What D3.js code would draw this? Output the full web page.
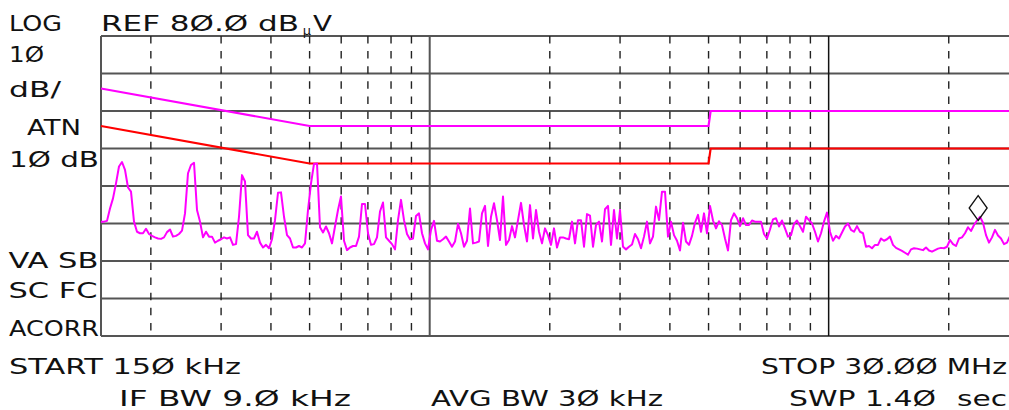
<!DOCTYPE html>
<meta charset="utf-8">
<style>
body { margin: 0; background: #fff; }
text { font-family: "DejaVu Sans", sans-serif; fill: #111; }
</style>
<script src="https://cdn.jsdelivr.net/npm/d3@7"></script>
<body>
<div id="graph"></div>
<script>
// sweep: 150 kHz .. 30 MHz, levels in dBuV, one value per sweep point
var startMHz = 0.15, stopMHz = 30;
var levels = [
  30.5,30.5,30.7,34.0,36.7,40.7,45.2,46.4,44.3,39.6,
  38.5,30.5,27.8,27.4,27.4,28.6,27.2,26.7,26.3,26.0,
  25.9,26.3,27.7,28.4,26.5,26.7,27.2,28.1,32.7,43.4,
  45.6,46.2,33.6,30.5,26.3,27.8,26.5,26.5,24.9,25.4,
  25.8,26.3,26.0,26.3,24.3,24.5,31.8,42.9,41.2,26.9,
  26.0,26.0,27.8,24.9,23.6,24.3,23.4,25.8,30.9,38.2,
  38.3,31.8,26.9,26.0,23.6,23.6,24.0,23.6,24.7,33.6,
  40.7,45.9,46.0,29.0,27.6,29.2,27.4,24.7,29.2,33.6,
  37.2,25.4,22.9,23.6,24.0,24.0,26.5,35.2,35.2,27.4,
  24.3,24.5,26.3,33.2,35.6,26.3,25.4,24.5,23.1,30.9,
  36.3,30.9,27.2,25.8,26.0,32.0,32.7,27.4,24.7,23.1,
  28.3,30.7,25.4,25.2,25.8,26.5,25.2,23.8,25.2,29.9,
  27.4,23.8,25.4,34.0,24.7,24.9,25.2,32.7,34.7,24.0,
  31.8,35.4,30.9,25.6,37.2,24.3,25.6,29.3,26.3,30.9,
  35.5,29.6,25.2,34.9,26.0,33.6,27.8,24.7,28.7,26.9,
  24.3,28.7,23.6,26.3,26.3,26.0,25.8,30.5,24.7,30.9,
  30.9,23.8,32.5,32.1,23.8,29.6,30.5,25.2,33.8,34.7,
  24.3,33.6,26.0,33.6,23.8,23.1,23.8,24.4,27.2,25.8,
  23.4,26.5,30.5,24.7,26.5,34.5,30.9,38.5,38.5,26.5,
  30.5,26.9,25.4,22.8,30.2,25.2,24.3,26.7,30.2,32.3,
  27.8,32.7,27.4,34.7,30.8,28.7,30.6,29.6,26.0,22.8,
  30.9,32.7,31.4,29.3,31.4,29.6,29.6,30.8,30.5,30.5,
  30.5,27.2,26.0,28.4,31.1,31.4,29.2,30.8,28.7,26.5,
  26.9,29.9,30.8,29.3,27.8,31.8,30.9,30.0,27.8,25.2,
  27.4,30.5,32.9,27.8,25.4,26.7,26.0,27.6,29.2,30.0,
  28.3,27.8,29.3,27.8,27.4,23.8,24.0,23.4,24.3,24.3,
  26.0,25.4,25.8,26.5,24.3,23.5,23.1,22.7,22.2,21.7,
  23.1,23.4,23.3,23.1,22.9,23.6,22.8,22.5,22.9,23.3,
  23.5,23.4,23.8,25.6,24.5,24.0,26.0,26.3,27.4,29.0,
  28.0,29.6,30.8,31.8,30.2,26.9,24.9,26.3,28.3,26.8,
  26.0,24.5,24.9,26.7,27.4,26.9,26.3
];

// limit lines (MHz / dBuV)
var limitFreq = [0.15, 0.5, 5, 5.06, 30];
var qpLimit   = [66, 56, 56, 60, 60];
var avLimit   = [56, 46, 46, 50, 50];

// graticule
var levelLines = [0, 10, 20, 30, 40, 50, 60, 70, 80];
var solidFreqs = [1, 10];
var dashFreqs  = [0.2,0.3,0.4,0.5,0.6,0.7,0.8,0.9, 2,3,4,5,6,7,8,9, 20];

// marker
var markerFreq = 23.7, markerLevel = 30.8;

var svg = d3.select("#graph").append("svg")
    .attr("width", 1009)
    .attr("height", 410);

var x = d3.scaleLog().domain([startMHz, stopMHz]).range([101, 1019]);
var y = d3.scaleLinear().domain([0, 80]).range([336, 36]);

//---------------------------------------------------- grid
svg.selectAll(".hline")
    .data(levelLines)
    .enter().append("line")
    .attr("x1", 101).attr("x2", 1019)
    .attr("y1", d => y(d)).attr("y2", d => y(d))
    .style("stroke", "#555")
    .style("stroke-width", 1.8);

svg.selectAll(".dline")
    .data(dashFreqs)
    .enter().append("line")
    .attr("x1", d => x(d)).attr("x2", d => x(d))
    .attr("y1", y(80)).attr("y2", y(0))
    .style("stroke", "#222")
    .style("stroke-width", 1.4)
    .style("stroke-dasharray", "7.5,7.6");

svg.append("line")
    .attr("x1", x(startMHz)).attr("x2", x(startMHz))
    .attr("y1", y(80)).attr("y2", y(0))
    .style("stroke", "#555").style("stroke-width", 2);

svg.selectAll(".sline")
    .data(solidFreqs)
    .enter().append("line")
    .attr("x1", d => x(d)).attr("x2", d => x(d))
    .attr("y1", y(80)).attr("y2", y(0))
    .style("stroke", (d, i) => i == 0 ? "#555" : "#111")
    .style("stroke-width", (d, i) => i == 0 ? 2 : 1.5);

//---------------------------------------------------- limits + trace
var limLine = d3.line()
    .x((d, i) => x(limitFreq[i]))
    .y(d => y(d));

svg.append("path")
    .attr("d", limLine(qpLimit))
    .style("fill", "none").style("stroke", "#ff00ff").style("stroke-width", 2.2);
svg.append("path")
    .attr("d", limLine(avLimit))
    .style("fill", "none").style("stroke", "#ff0000").style("stroke-width", 2.2);

var n = levels.length;
var trace = d3.line()
    .x((d, i) => x(startMHz * Math.pow(stopMHz / startMHz, i / (n - 1))))
    .y(d => y(d));

svg.append("path")
    .attr("d", trace(levels))
    .style("fill", "none")
    .style("stroke", "#ff00ff")
    .style("stroke-width", 2)
    .style("stroke-linejoin", "round");

// marker diamond sits on the peak
var mx = x(markerFreq), my = y(markerLevel);
svg.append("path")
    .attr("d", "M" + mx + "," + my + "L" + (mx + 9) + "," + (my - 12.5) +
               "L" + mx + "," + (my - 25) + "L" + (mx - 9) + "," + (my - 12.5) + "Z")
    .style("fill", "none").style("stroke", "#111").style("stroke-width", 1.3);

//---------------------------------------------------- annotation text
// x = left edge, w = width the string spans on screen
var labels = [
  {t: "LOG",            x: 9,   y: 30.7, w: 53},
  {t: "REF 8Ø.Ø dB",    x: 101, y: 30.7, w: 198},
  {t: "V",              x: 313, y: 30.7, w: 19},
  {t: "1Ø",             x: 9,   y: 61.7, w: 35},
  {t: "dB/",            x: 9,   y: 96.7, w: 52},
  {t: "ATN",            x: 27,  y: 135,  w: 54},
  {t: "1Ø dB",          x: 9,   y: 166.7,w: 90},
  {t: "VA SB",          x: 8.5, y: 268.3,w: 90},
  {t: "SC FC",          x: 8.5, y: 297.7,w: 89},
  {t: "ACORR",          x: 9,   y: 335.7,w: 90},
  {t: "START 15Ø kHz",  x: 9,   y: 374,  w: 232},
  {t: "STOP 3Ø.ØØ MHz", x: 761, y: 374,  w: 246},
  {t: "IF BW 9.Ø kHz",  x: 119, y: 406,  w: 232},
  {t: "AVG BW 3Ø kHz",  x: 431, y: 406,  w: 232},
  {t: "SWP 1.4Ø",       x: 789, y: 406,  w: 147},
  {t: "sec",            x: 957, y: 406,  w: 50}
];

svg.selectAll(".lbl")
    .data(labels)
    .enter().append("text")
    .attr("class", "lbl")
    .attr("x", d => d.x)
    .attr("y", d => d.y)
    .attr("textLength", d => d.w)
    .attr("lengthAdjust", "spacingAndGlyphs")
    .style("font-size", "22px")
    .text(d => d.t);

svg.append("text")
    .attr("x", 307).attr("y", 35)
    .attr("text-anchor", "middle")
    .style("font-size", "13px")
    .text("µ");
</script>
</body>
